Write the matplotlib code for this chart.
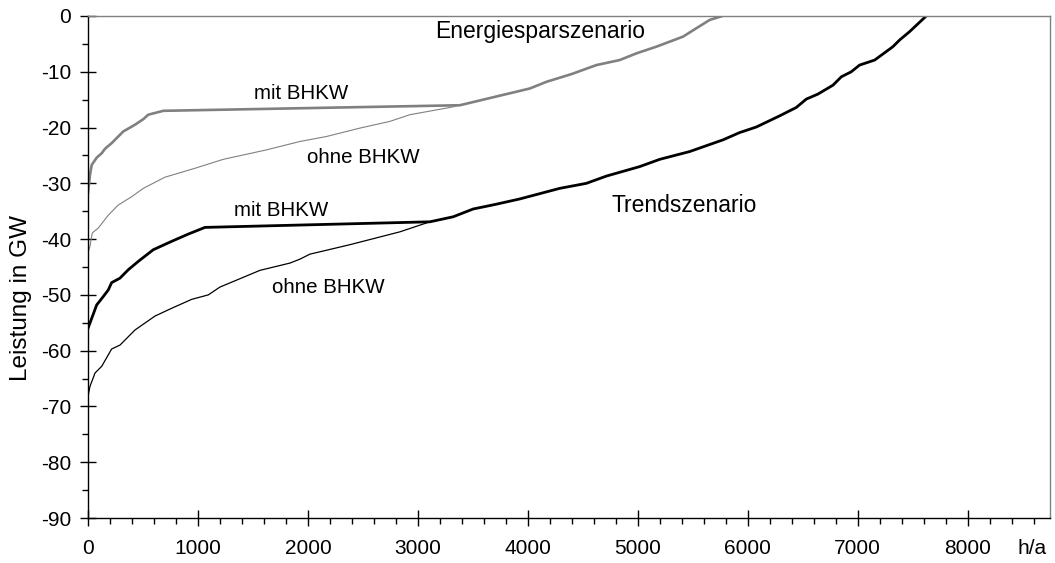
import matplotlib
matplotlib.use("Agg")
import matplotlib.pyplot as plt
from matplotlib.ticker import MultipleLocator

plt.rcParams['font.family'] = ['Liberation Sans', 'DejaVu Sans']
plt.rcParams['axes.unicode_minus'] = False

# Energiesparszenario, mit BHKW (thick gray)
spar_mit_x = [0, 18, 34, 79, 125, 155, 215, 321, 427, 503, 548, 685,
              3382, 3700, 4018, 4170, 4400, 4624, 4836, 4988, 5170, 5412, 5533, 5655, 5770]
spar_mit_y = [-31.7, -28.5, -26.7, -25.4, -24.6, -23.8, -22.8, -20.7, -19.5, -18.5, -17.7, -17.0,
              -16.0, -14.5, -13.0, -11.8, -10.4, -8.8, -7.9, -6.7, -5.5, -3.7, -2.2, -0.7, 0.0]

# Energiesparszenario, ohne BHKW (thin gray)
spar_ohne_x = [0, 18, 39, 94, 185, 275, 397, 503, 700, 973, 1230, 1624, 1927, 2170, 2473, 2745, 2927, 3291, 3382]
spar_ohne_y = [-42.5, -41.3, -38.9, -38.0, -35.7, -33.9, -32.4, -30.9, -28.9, -27.3, -25.7, -24.0,
               -22.5, -21.6, -20.1, -18.9, -17.7, -16.4, -16.0]

# Trendszenario, mit BHKW (thick black)
trend_mit_x = [0, 34, 79, 139, 185, 215, 291, 366, 457, 594, 761, 912, 1064,
               3109, 3321, 3503, 3700, 3927, 4291, 4533, 4715, 5018, 5200, 5473, 5776, 5927,
               6079, 6291, 6442, 6533, 6639, 6776, 6852, 6942, 7018, 7155, 7321, 7382, 7473, 7624]
trend_mit_y = [-56.0, -54.2, -51.8, -50.3, -49.1, -47.8, -47.0, -45.5, -44.0, -41.9, -40.4, -39.1, -37.9,
               -36.9, -36.0, -34.6, -33.8, -32.8, -30.9, -30.0, -28.7, -27.0, -25.7, -24.3, -22.2, -20.9,
               -19.9, -17.9, -16.4, -14.9, -14.0, -12.4, -10.9, -10.0, -8.8, -7.9, -5.5, -4.3, -2.8, 0.0]

# Trendszenario, ohne BHKW (thin black)
trend_ohne_x = [0, 18, 64, 125, 215, 291, 427, 609, 761, 943, 1094, 1200, 1564, 1836, 1927, 2018,
                2382, 2836, 3109]
trend_ohne_y = [-68.2, -66.4, -64.0, -62.8, -59.7, -59.0, -56.3, -53.8, -52.4, -50.8, -50.0, -48.6,
                -45.6, -44.3, -43.6, -42.7, -41.0, -38.7, -36.9]

fig = plt.figure(figsize=(10.55, 5.63), dpi=100)
ax = fig.add_axes([0.0834, 0.0799, 0.9119, 0.8917])

ax.plot(spar_ohne_x, spar_ohne_y, color='#808080', linewidth=0.8)
ax.plot(spar_mit_x, spar_mit_y, color='#808080', linewidth=1.9)
ax.plot(trend_ohne_x, trend_ohne_y, color='black', linewidth=0.9)
ax.plot(trend_mit_x, trend_mit_y, color='black', linewidth=2.0)

ax.set_xlim(0, 8750)
ax.set_ylim(-90, 0)
ax.xaxis.set_major_locator(MultipleLocator(1000))
ax.xaxis.set_minor_locator(MultipleLocator(200))
ax.yaxis.set_major_locator(MultipleLocator(10))
ax.yaxis.set_minor_locator(MultipleLocator(5))

ax.tick_params(which='major', direction='inout', length=11, width=1.0, labelsize=15, colors='black')
ax.tick_params(which='minor', direction='out', length=4, width=1.0)
ax.tick_params(axis='x', which='major', pad=9.5)
ax.tick_params(axis='y', which='major', pad=6.5)

for s in ['top', 'right']:
    ax.spines[s].set_color('#808080')
    ax.spines[s].set_linewidth(1.0)
for s in ['left', 'bottom']:
    ax.spines[s].set_color('black')
    ax.spines[s].set_linewidth(1.0)

ax.set_ylabel('Leistung in GW', fontsize=17.5)
ax.yaxis.set_label_coords(-0.058, 0.438)

ax.text(4116, -2.8, 'Energiesparszenario', fontsize=16.5, ha='center', va='center')
ax.text(1943, -13.9, 'mit BHKW', fontsize=14.8, ha='center', va='center')
ax.text(2503, -25.4, 'ohne BHKW', fontsize=14.8, ha='center', va='center')
ax.text(1761, -34.8, 'mit BHKW', fontsize=14.8, ha='center', va='center')
ax.text(2185, -48.6, 'ohne BHKW', fontsize=14.8, ha='center', va='center')
ax.text(5427, -33.9, 'Trendszenario', fontsize=16.5, ha='center', va='center')

fig.text(1032 / 1055, 1 - 549 / 563, 'h/a', fontsize=15, ha='center', va='center')

fig.savefig('out.png', dpi=100)
